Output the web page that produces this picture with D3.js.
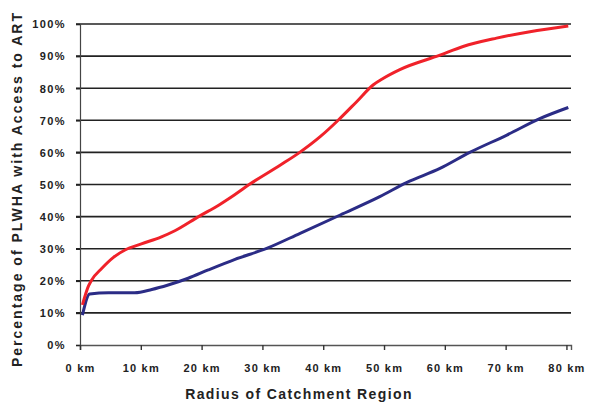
<!DOCTYPE html>
<html>
<head>
<meta charset="utf-8">
<script src="https://cdn.jsdelivr.net/npm/d3@7"></script>
<style>
  body { margin: 0; background: #fff; }
  text { font-family: "Liberation Sans", Arial, sans-serif; font-weight: bold; fill: #222; }
</style>
</head>
<body>
<div id="chart"></div>
<script>
const redKm  = [0.4, 1.4, 1.9, 3.6, 5.5, 7.4, 10.1, 13.4, 15.6, 19.5, 23, 25.5, 28, 32.9, 35.9, 39.5, 42.5, 45.5, 48.2, 49.9, 52.6, 59.2, 63, 68.5, 74, 80.3];
const redPct = [12.5, 18.4, 20.2, 23.9, 27.3, 29.6, 31.5, 33.7, 35.6, 40, 43.8, 46.9, 50.2, 56, 59.7, 64.9, 70.1, 75.8, 81, 83.1, 85.8, 90.3, 93.0, 95.6, 97.6, 99.4];

const blueKm  = [0.4, 1.6, 4.7, 9, 11.8, 14.5, 17.8, 21.1, 25.5, 30.7, 36.2, 42.8, 49.3, 53.7, 59.2, 64.1, 70.2, 75.7, 80.3];
const bluePct = [9.3, 15.9, 16.3, 16.3, 17.3, 18.7, 20.8, 23.4, 26.7, 30.1, 34.8, 40.5, 46.2, 50.6, 55, 60, 65.4, 70.6, 74];

const xTicks = [0, 10, 20, 30, 40, 50, 60, 70, 80];
const yTicks = [0, 10, 20, 30, 40, 50, 60, 70, 80, 90, 100];

const width = 600, height = 414;
const margin = {top: 24, right: 29, bottom: 69, left: 80};

const svg = d3.select('#chart').append('svg')
    .attr('width', width)
    .attr('height', height);

const x = d3.scaleLinear().domain([0, 80.75]).range([margin.left, width - margin.right]);
const y = d3.scaleLinear().domain([0, 100]).range([height - margin.bottom, margin.top]);

// gridlines
svg.append('g').selectAll('line').data(yTicks.filter(d => d > 0)).enter().append('line')
    .attr('x1', margin.left - 4).attr('x2', width - margin.right)
    .attr('y1', d => y(d)).attr('y2', d => y(d))
    .style('stroke', '#222').style('stroke-width', 1.6);

// y axis
let yAxis = svg.append('g')
    .attr('transform', `translate(${margin.left},0)`)
    .call(d3.axisLeft(y).tickValues(yTicks).tickSize(4).tickPadding(10).tickFormat(d => d + '%'));
yAxis.select('.domain').style('stroke', '#444').style('stroke-width', 1.2);
yAxis.selectAll('.tick line').style('stroke', '#222').style('stroke-width', 1.6);
yAxis.selectAll('text').style('font-size', '11px').style('letter-spacing', '1.4px').attr('dy', '0.35em');

// x axis
let xAxis = svg.append('g')
    .attr('transform', `translate(0,${y(0)})`)
    .call(d3.axisBottom(x).tickValues(xTicks).tickSizeOuter(0).tickSize(5).tickPadding(14).tickFormat(d => d + ' km'));
xAxis.select('.domain').style('stroke', '#555').style('stroke-width', 1.4);
xAxis.selectAll('.tick line').style('stroke', '#333').style('stroke-width', 1.4);
xAxis.selectAll('text').style('font-size', '11px').style('letter-spacing', '1.2px');

// series
const line = d3.line().x(d => x(d[0])).y(d => y(d[1])).curve(d3.curveMonotoneX);

svg.append('path')
    .datum(blueKm.map((k, i) => [k, bluePct[i]]))
    .attr('d', line)
    .style('fill', 'none').style('stroke', '#2b2c86').style('stroke-width', 3);

svg.append('path')
    .datum(redKm.map((k, i) => [k, redPct[i]]))
    .attr('d', line)
    .style('fill', 'none').style('stroke', '#f0222a').style('stroke-width', 3);

// titles
svg.append('text')
    .attr('x', 299).attr('y', 399)
    .style('text-anchor', 'middle')
    .style('font-size', '14px')
    .style('letter-spacing', '1.4px')
    .text('Radius of Catchment Region');

svg.append('text')
    .attr('transform', 'translate(22,189) rotate(-90)')
    .style('text-anchor', 'middle')
    .style('font-size', '14px')
    .style('letter-spacing', '2px')
    .text('Percentage of PLWHA with Access to ART');
</script>
</body>
</html>
